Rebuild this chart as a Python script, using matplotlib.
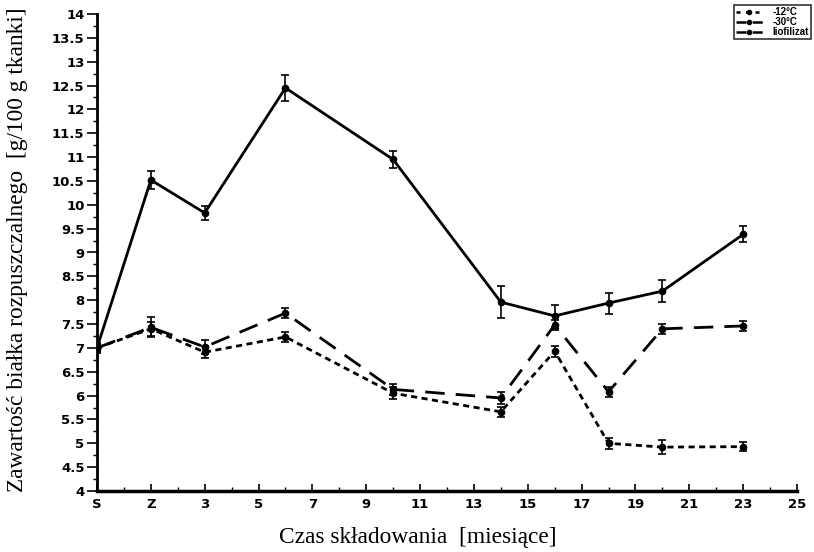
import matplotlib
matplotlib.use("Agg")
import matplotlib.pyplot as plt
from matplotlib.ticker import MultipleLocator
from matplotlib.lines import Line2D

# Data
x_pos = [-1, 1, 3, 6, 10, 14, 16, 18, 20, 23]
liofilizat = [7.0, 10.52, 9.83, 12.45, 10.95, 7.96, 7.67, 7.94, 8.19, 9.38]
liofilizat_err = [0.1, 0.18, 0.15, 0.28, 0.17, 0.33, 0.23, 0.22, 0.23, 0.17]
m30 = [7.0, 7.43, 7.02, 7.73, 6.13, 5.95, 7.48, 6.08, 7.40, 7.46]
m30_err = [0.08, 0.21, 0.15, 0.1, 0.12, 0.12, 0.1, 0.1, 0.1, 0.1]
m12 = [7.0, 7.40, 6.91, 7.23, 6.05, 5.66, 6.93, 5.00, 4.92, 4.93]
m12_err = [0.08, 0.15, 0.12, 0.1, 0.12, 0.1, 0.12, 0.12, 0.15, 0.1]

xtick_vals = [-1, 1, 3, 5, 7, 9, 11, 13, 15, 17, 19, 21, 23, 25]
xtick_labels = ["S", "Z", "3", "5", "7", "9", "11", "13", "15", "17", "19", "21", "23", "25"]
ytick_vals = [4, 4.5, 5, 5.5, 6, 6.5, 7, 7.5, 8, 8.5, 9, 9.5, 10, 10.5, 11, 11.5,
              12, 12.5, 13, 13.5, 14]
series_labels = ["-12°C", "-30°C", "liofilizat"]

fig = plt.figure(figsize=(8.14, 5.52), dpi=100)
ax = fig.add_axes([97/814, 1-491/552, (797-97)/814, (491-14)/552])

common = dict(color="black", lw=2, marker="o", ms=4.5, capsize=3, elinewidth=1.2,
              capthick=1.2, ecolor="black")
ax.errorbar(x_pos, m12, yerr=m12_err, dashes=(2.2, 1.6), **common)
ax.errorbar(x_pos, m30, yerr=m30_err, dashes=(7, 4), **common)
ax.errorbar(x_pos, liofilizat, yerr=liofilizat_err, ls="-", **common)

ax.set_xlim(-1, 25)
ax.set_ylim(4, 14)
ax.set_xticks(xtick_vals)
ax.set_xticklabels(xtick_labels)
ax.set_yticks(ytick_vals)
ax.set_yticklabels([f"{v:g}" for v in ytick_vals])
ax.xaxis.set_minor_locator(MultipleLocator(1))
ax.yaxis.set_minor_locator(MultipleLocator(0.25))

for s in ["top", "right"]:
    ax.spines[s].set_visible(False)
ax.spines["left"].set_linewidth(2)
ax.spines["bottom"].set_linewidth(2.5)

ax.tick_params(axis="y", which="major", direction="out", length=7, width=1.2, pad=2)
ax.tick_params(axis="y", which="minor", direction="out", length=3, width=1)
ax.tick_params(axis="x", which="major", direction="in", length=5, width=1.2, pad=5)
ax.tick_params(axis="x", which="minor", direction="in", length=3, width=1)

for lab in ax.get_xticklabels() + ax.get_yticklabels():
    lab.set_fontfamily("DejaVu Sans")
    lab.set_fontweight("bold")
    lab.set_fontsize(9.5)

ax.set_xlabel("Czas składowania  [miesiące]", fontfamily="Liberation Serif",
              fontsize=16.8)
ax.xaxis.set_label_coords((418-97)/700, -(538-491)/477)
ax.xaxis.label.set_va("center")
ax.set_ylabel("Zawartość białka rozpuszczalnego  [g/100 g tkanki]",
              fontfamily="Liberation Serif", fontsize=16.8)
ax.yaxis.set_label_coords(-(97-18)/700, (491-250)/477)
ax.yaxis.label.set_va("center")

handles = [
    Line2D([0, 1, 2], [0, 0, 0], color="black", lw=1.8, dashes=(1.6, 2.2),
           marker="o", ms=3, markevery=[1]),
    Line2D([0, 1, 2], [0, 0, 0], color="black", lw=1.8, dashes=(4, 2.5),
           marker="o", ms=3, markevery=[1]),
    Line2D([0, 1, 2], [0, 0, 0], color="black", lw=1.8, dashes=(4, 2.5),
           marker="o", ms=3, markevery=[1]),
]
leg = fig.legend(handles=handles, labels=series_labels,
                 loc="upper right", bbox_to_anchor=(811/814, 1-5/552),
                 prop={"family": "Liberation Sans", "weight": "bold", "size": 7},
                 frameon=True, fancybox=False, handlelength=2.8, handletextpad=1.0,
                 borderpad=0.2, labelspacing=0.0, borderaxespad=0)
leg.get_frame().set_edgecolor("black")
leg.get_frame().set_linewidth(1.2)

fig.savefig("out.png", dpi=100)
